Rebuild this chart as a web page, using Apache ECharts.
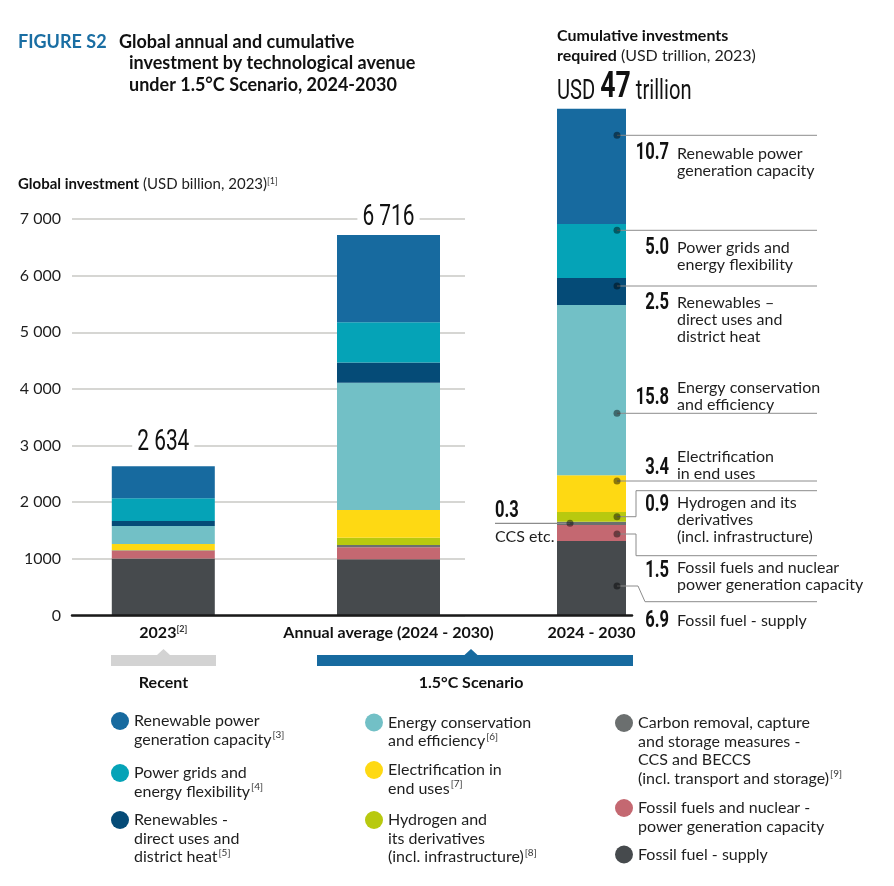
<!DOCTYPE html>
<html><head><meta charset="utf-8">
<script src="https://cdn.jsdelivr.net/npm/echarts@6/dist/echarts.min.js"></script>
<style>html,body{margin:0;padding:0;background:#fff}#c{width:894px;height:886px}</style>
</head><body><div id="c"></div>
<script>
// ---------------- DATA ----------------
const categories = ['2023', 'Annual average (2024 - 2030)'];
const cumulativeCategory = ['2024 - 2030'];
const seriesNames = [
  'Renewable power generation capacity',
  'Power grids and energy flexibility',
  'Renewables - direct uses and district heat',
  'Energy conservation and efficiency',
  'Electrification in end uses',
  'Hydrogen and its derivatives (incl. infrastructure)',
  'Carbon removal, capture and storage measures - CCS and BECCS (incl. transport and storage)',
  'Fossil fuels and nuclear - power generation capacity',
  'Fossil fuel - supply'
];
// USD billion, [2023, annual average 2024-2030]
const renewablePower   = [565, 1540];
const powerGrids       = [400, 710];
const renewablesDirect = [88, 355];
const efficiency       = [318, 2250];
const electrification  = [106, 490];
const hydrogen         = [4, 125];
const ccs              = [6, 40];
const fossilPower      = [140, 212];
const fossilSupply     = [1007, 994];
// USD trillion, cumulative 2024-2030 (same order as seriesNames)
const cumulativeTrillion = [10.7, 5.0, 2.5, 15.8, 3.4, 0.9, 0.3, 1.5, 6.9];
const yTickLabels = ['0', '1000', '2 000', '3 000', '4 000', '5 000', '6 000', '7 000'];

// ---------------- STYLE ----------------
const colors = ['#176a9f', '#05a3b7', '#054b77', '#72c0c6', '#fed913', '#b8c90f', '#6b6f6f', '#c46871', '#464a4d'];
const FONT = 'Lato, "Open Sans", sans-serif';
const NARROW = 'Roboto, "DejaVu Sans Condensed", sans-serif';
const SQUEEZE = 0.72;
const TXT = '#1e1e1e';

const annual = [renewablePower, powerGrids, renewablesDirect, efficiency, electrification, hydrogen, ccs, fossilPower, fossilSupply];
const totals = categories.map((c, j) => annual.reduce((s, a) => s + a[j], 0));
const cumTotal = cumulativeTrillion.reduce((s, v) => s + v, 0);
function fmt(n) { n = Math.round(n); return n >= 1000 ? Math.floor(n / 1000) + ' ' + String(n % 1000).padStart(3, '0') : String(n); }

const series = [];
for (let k = seriesNames.length - 1; k >= 0; k--) {
  series.push({
    name: seriesNames[k], type: 'bar', stack: 'annual', xAxisIndex: 1, yAxisIndex: 1,
    barWidth: 103, data: annual[k], itemStyle: { color: colors[k] }, emphasis: { disabled: true }
  });
  series.push({
    name: seriesNames[k], type: 'bar', stack: 'cum', xAxisIndex: 2, yAxisIndex: 2,
    barWidth: 69, data: [cumulativeTrillion[k]], itemStyle: { color: colors[k] }, emphasis: { disabled: true }
  });
}

// legend layout: [left, first line centre y, label lines]
const legendLayout = [
  [111, 721, ['Renewable power', 'generation capacity{sup|[3]}']],
  [111, 773, ['Power grids and', 'energy flexibility{sup|[4]}']],
  [111, 820, ['Renewables -', 'direct uses and', 'district heat{sup|[5]}']],
  [365, 722.5, ['Energy conservation', 'and efficiency{sup|[6]}']],
  [365, 770, ['Electrification in', 'end uses{sup|[7]}']],
  [365, 820, ['Hydrogen and', 'its derivatives', '(incl. infrastructure){sup|[8]}']],
  [615, 723, ['Carbon removal, capture', 'and storage measures -', 'CCS and BECCS', '(incl. transport and storage){sup|[9]}']],
  [615, 808, ['Fossil fuels and nuclear -', 'power generation capacity']],
  [615, 854.5, ['Fossil fuel - supply']]
];
const LH = 18.5;
const legends = legendLayout.map((L, k) => {
  const n = L[2].length;
  const txt = '\n'.repeat(n - 1) + L[2].join('\n');
  return {
    data: [seriesNames[k]], left: L[0], top: L[1] - (2 * n - 1) * LH / 2, padding: 0,
    icon: 'circle', itemWidth: 18, itemHeight: 18, orient: 'vertical',
    formatter: () => txt,
    textStyle: { fontFamily: FONT, fontSize: 16, color: TXT, lineHeight: LH,
      rich: { sup: { fontSize: 10, color: '#333', verticalAlign: 'top', lineHeight: 10, padding: [0, 0, 0, 1] } } }
  };
});

// condensed number text helper
function narrow(x, y, text, size, weight, align, extra) {
  return Object.assign({ type: 'text', x: x, y: y, scaleX: SQUEEZE, z: 20,
    style: Object.assign({ x: 0, y: 0, text: text, align: align || 'left', verticalAlign: 'middle', fontFamily: NARROW, fontWeight: weight || 'bold', fontSize: size, fill: '#111' }, extra || {}) });
}

// ---------------- ANNOTATIONS (layout) ----------------
const DOTX = 617, LINE_END = 817, NUM_X = 669, TXT_X = 677, ALH = 17;
const annLayout = [
  { i: 0, dotY: 135.3, numY: 153, textY: 154, lines: ['Renewable power', 'generation capacity'] },
  { i: 1, dotY: 230.3, numY: 248, textY: 248, lines: ['Power grids and', 'energy flexibility'] },
  { i: 2, dotY: 286, numY: 303, textY: 303, lines: ['Renewables –', 'direct uses and', 'district heat'] },
  { i: 3, dotY: 413.3, numY: 398, textY: 388, lines: ['Energy conservation', 'and efficiency'] },
  { i: 4, dotY: 481, numY: 468, textY: 457, lines: ['Electrification', 'in end uses'] },
  { i: 5, dotY: 516.7, path: [[636, 516.7], [636, 490.7], [LINE_END, 490.7]], numY: 505, textY: 503, lines: ['Hydrogen and its', 'derivatives', '(incl. infrastructure)'] },
  { i: 7, dotY: 534, path: [[636, 534], [636, 555.7], [LINE_END, 555.7]], numY: 571, textY: 568, lines: ['Fossil fuels and nuclear', 'power generation capacity'] },
  { i: 8, dotY: 586, path: [[638, 586], [645, 601.7], [LINE_END, 601.7]], numY: 621, textY: 621, lines: ['Fossil fuel - supply'] }
];
const graphics = [];
const LINEC = '#8c8c8c', DOTC = 'rgba(0,0,0,0.45)';
annLayout.forEach(a => {
  const pts = [[DOTX, a.dotY]].concat(a.path || [[LINE_END, a.dotY]]);
  graphics.push({ type: 'polyline', z: 20, shape: { points: pts }, style: { stroke: LINEC, lineWidth: 1, fill: null } });
  graphics.push({ type: 'circle', z: 21, shape: { cx: DOTX, cy: a.dotY, r: 3.5 }, style: { fill: DOTC } });
  graphics.push(narrow(NUM_X, a.numY, cumulativeTrillion[a.i].toFixed(1), 23, 'bold', 'right'));
  graphics.push({ type: 'text', z: 20, style: { x: TXT_X, y: a.textY - ALH / 2, text: a.lines.join('\n'), align: 'left', verticalAlign: 'top', fontFamily: FONT, fontSize: 16, lineHeight: ALH, fill: TXT } });
});
// CCS
graphics.push({ type: 'polyline', z: 20, shape: { points: [[495, 523.3], [570, 523.3]] }, style: { stroke: LINEC, lineWidth: 1.2, fill: null } });
graphics.push({ type: 'circle', z: 21, shape: { cx: 570, cy: 523.3, r: 3.5 }, style: { fill: DOTC } });
graphics.push(narrow(495, 511, cumulativeTrillion[6].toFixed(1), 23, 'bold', 'left'));
graphics.push({ type: 'text', style: { x: 495, y: 537, text: 'CCS etc.', align: 'left', verticalAlign: 'middle', fontFamily: FONT, fontSize: 16, fill: TXT } });

// titles
graphics.push({ type: 'text', style: { x: 18, y: 42, text: 'FIGURE S2', verticalAlign: 'middle', fontFamily: FONT, fontWeight: 'bold', fontSize: 18, fill: '#1a6ea3' } });
graphics.push({ type: 'text', style: { x: 119, y: 42, text: 'Global annual and cumulative', verticalAlign: 'middle', fontFamily: FONT, fontWeight: 'bold', fontSize: 18, fill: '#111' } });
graphics.push({ type: 'text', style: { x: 129, y: 63, text: 'investment by technological avenue', verticalAlign: 'middle', fontFamily: FONT, fontWeight: 'bold', fontSize: 18, fill: '#111' } });
graphics.push({ type: 'text', style: { x: 129, y: 85, text: 'under 1.5°C Scenario, 2024-2030', verticalAlign: 'middle', fontFamily: FONT, fontWeight: 'bold', fontSize: 18, fill: '#111' } });
graphics.push({ type: 'text', style: { x: 18, y: 184, text: '{b|Global investment} (USD billion, 2023){sup|[1]}', verticalAlign: 'middle', fontFamily: FONT, fontSize: 15, fill: TXT,
  rich: { b: { fontWeight: 'bold', fontFamily: FONT, fontSize: 15, fill: '#111' }, sup: { fontSize: 9, verticalAlign: 'top', lineHeight: 9, fontFamily: FONT, fill: '#333' } } } });
graphics.push({ type: 'text', style: { x: 557, y: 36, text: 'Cumulative investments', verticalAlign: 'middle', fontFamily: FONT, fontWeight: 'bold', fontSize: 16, fill: '#111' } });
graphics.push({ type: 'text', style: { x: 557, y: 56, text: '{b|required} (USD trillion, 2023)', verticalAlign: 'middle', fontFamily: FONT, fontSize: 16, fill: TXT,
  rich: { b: { fontWeight: 'bold', fontFamily: FONT, fontSize: 16, fill: '#111' } } } });
graphics.push(narrow(557, 88, '{a|USD }{n|' + Math.round(cumTotal) + '}{a| trillion}', 28, 'normal', 'left', {
  rich: { a: { fontFamily: NARROW, fontSize: 28, verticalAlign: 'bottom', fill: '#111', padding: [0, 0, 1, 0] }, n: { fontFamily: NARROW, fontWeight: 'bold', fontSize: 37, verticalAlign: 'bottom', fill: '#111' } } }));

// brackets
graphics.push({ type: 'polygon', shape: { points: [[111, 655], [157, 655], [163.5, 649], [170, 655], [216, 655], [216, 666], [111, 666]] }, style: { fill: '#d3d3d3' } });
graphics.push({ type: 'polygon', shape: { points: [[317, 655], [464.5, 655], [471, 649], [477.5, 655], [633, 655], [633, 666], [317, 666]] }, style: { fill: '#176a9f' } });
graphics.push({ type: 'text', style: { x: 163.5, y: 683, text: 'Recent', align: 'center', verticalAlign: 'middle', fontFamily: FONT, fontWeight: 'bold', fontSize: 16, fill: '#111' } });
graphics.push({ type: 'text', style: { x: 471, y: 683, text: '1.5°C Scenario', align: 'center', verticalAlign: 'middle', fontFamily: FONT, fontWeight: 'bold', fontSize: 16, fill: '#111' } });

// ---------------- CHART ----------------
const TOP = 219, BOTTOM = 615.5, H = BOTTOM - TOP;
const xLabel = { fontFamily: FONT, fontWeight: 'bold', fontSize: 16, color: '#111', margin: 9, interval: 0,
  rich: { sup: { fontSize: 9, verticalAlign: 'top', lineHeight: 9, color: '#333', fontFamily: FONT } } };
const option = {
  animation: false,
  backgroundColor: '#fff',
  grid: [
    { left: 72, top: TOP, width: 393, height: H },
    { left: 50.7, top: TOP, width: 450.4, height: H },
    { left: 557, top: 108.7, width: 69, height: BOTTOM - 108.7 },
    { left: 72, top: TOP, width: 560, height: H }
  ],
  xAxis: [
    { gridIndex: 0, type: 'category', data: categories, show: false },
    { gridIndex: 1, type: 'category', data: categories, axisLine: { show: false }, axisTick: { show: false },
      axisLabel: Object.assign({}, xLabel, { formatter: v => v === '2023' ? '2023{sup|[2]}' : v }) },
    { gridIndex: 2, type: 'category', data: cumulativeCategory, axisLine: { show: false }, axisTick: { show: false }, axisLabel: xLabel },
    { gridIndex: 3, type: 'value', min: 0, max: 1, z: 10, axisLine: { show: true, onZero: false, lineStyle: { color: '#1a1a1a', width: 2.5 } },
      axisTick: { show: false }, axisLabel: { show: false }, splitLine: { show: false } }
  ],
  yAxis: [
    { gridIndex: 0, type: 'value', min: 0, max: 7000, interval: 1000, axisLine: { show: false }, axisTick: { show: false },
      axisLabel: { margin: 11, fontFamily: FONT, fontSize: 16, color: TXT, formatter: (v) => yTickLabels[Math.round(v / 1000)] },
      splitLine: { lineStyle: { color: '#d6d6d3', width: 2 } } },
    { gridIndex: 1, type: 'value', min: 0, max: 7000, show: false },
    { gridIndex: 2, type: 'value', min: 0, max: cumTotal, show: false },
    { gridIndex: 3, type: 'value', show: false }
  ],
  legend: legends,
  series: series,
  graphic: graphics
};
const chart = echarts.init(document.getElementById('c'), null, { renderer: 'canvas' });
chart.setOption(option);

// total labels above the annual bars, placed through the bar axes
const totalLabelGap = [23.5, 17.5];
const totalLabels = categories.map((c, j) => {
  const p = chart.convertToPixel({ xAxisIndex: 1, yAxisIndex: 1 }, [j, totals[j]]);
  return narrow(p[0], p[1] - totalLabelGap[j], fmt(totals[j]), 29, 'normal', 'center',
    { backgroundColor: '#fff', padding: [0, 7] });
});
chart.setOption({ graphic: graphics.concat(totalLabels) });
</script></body></html>
